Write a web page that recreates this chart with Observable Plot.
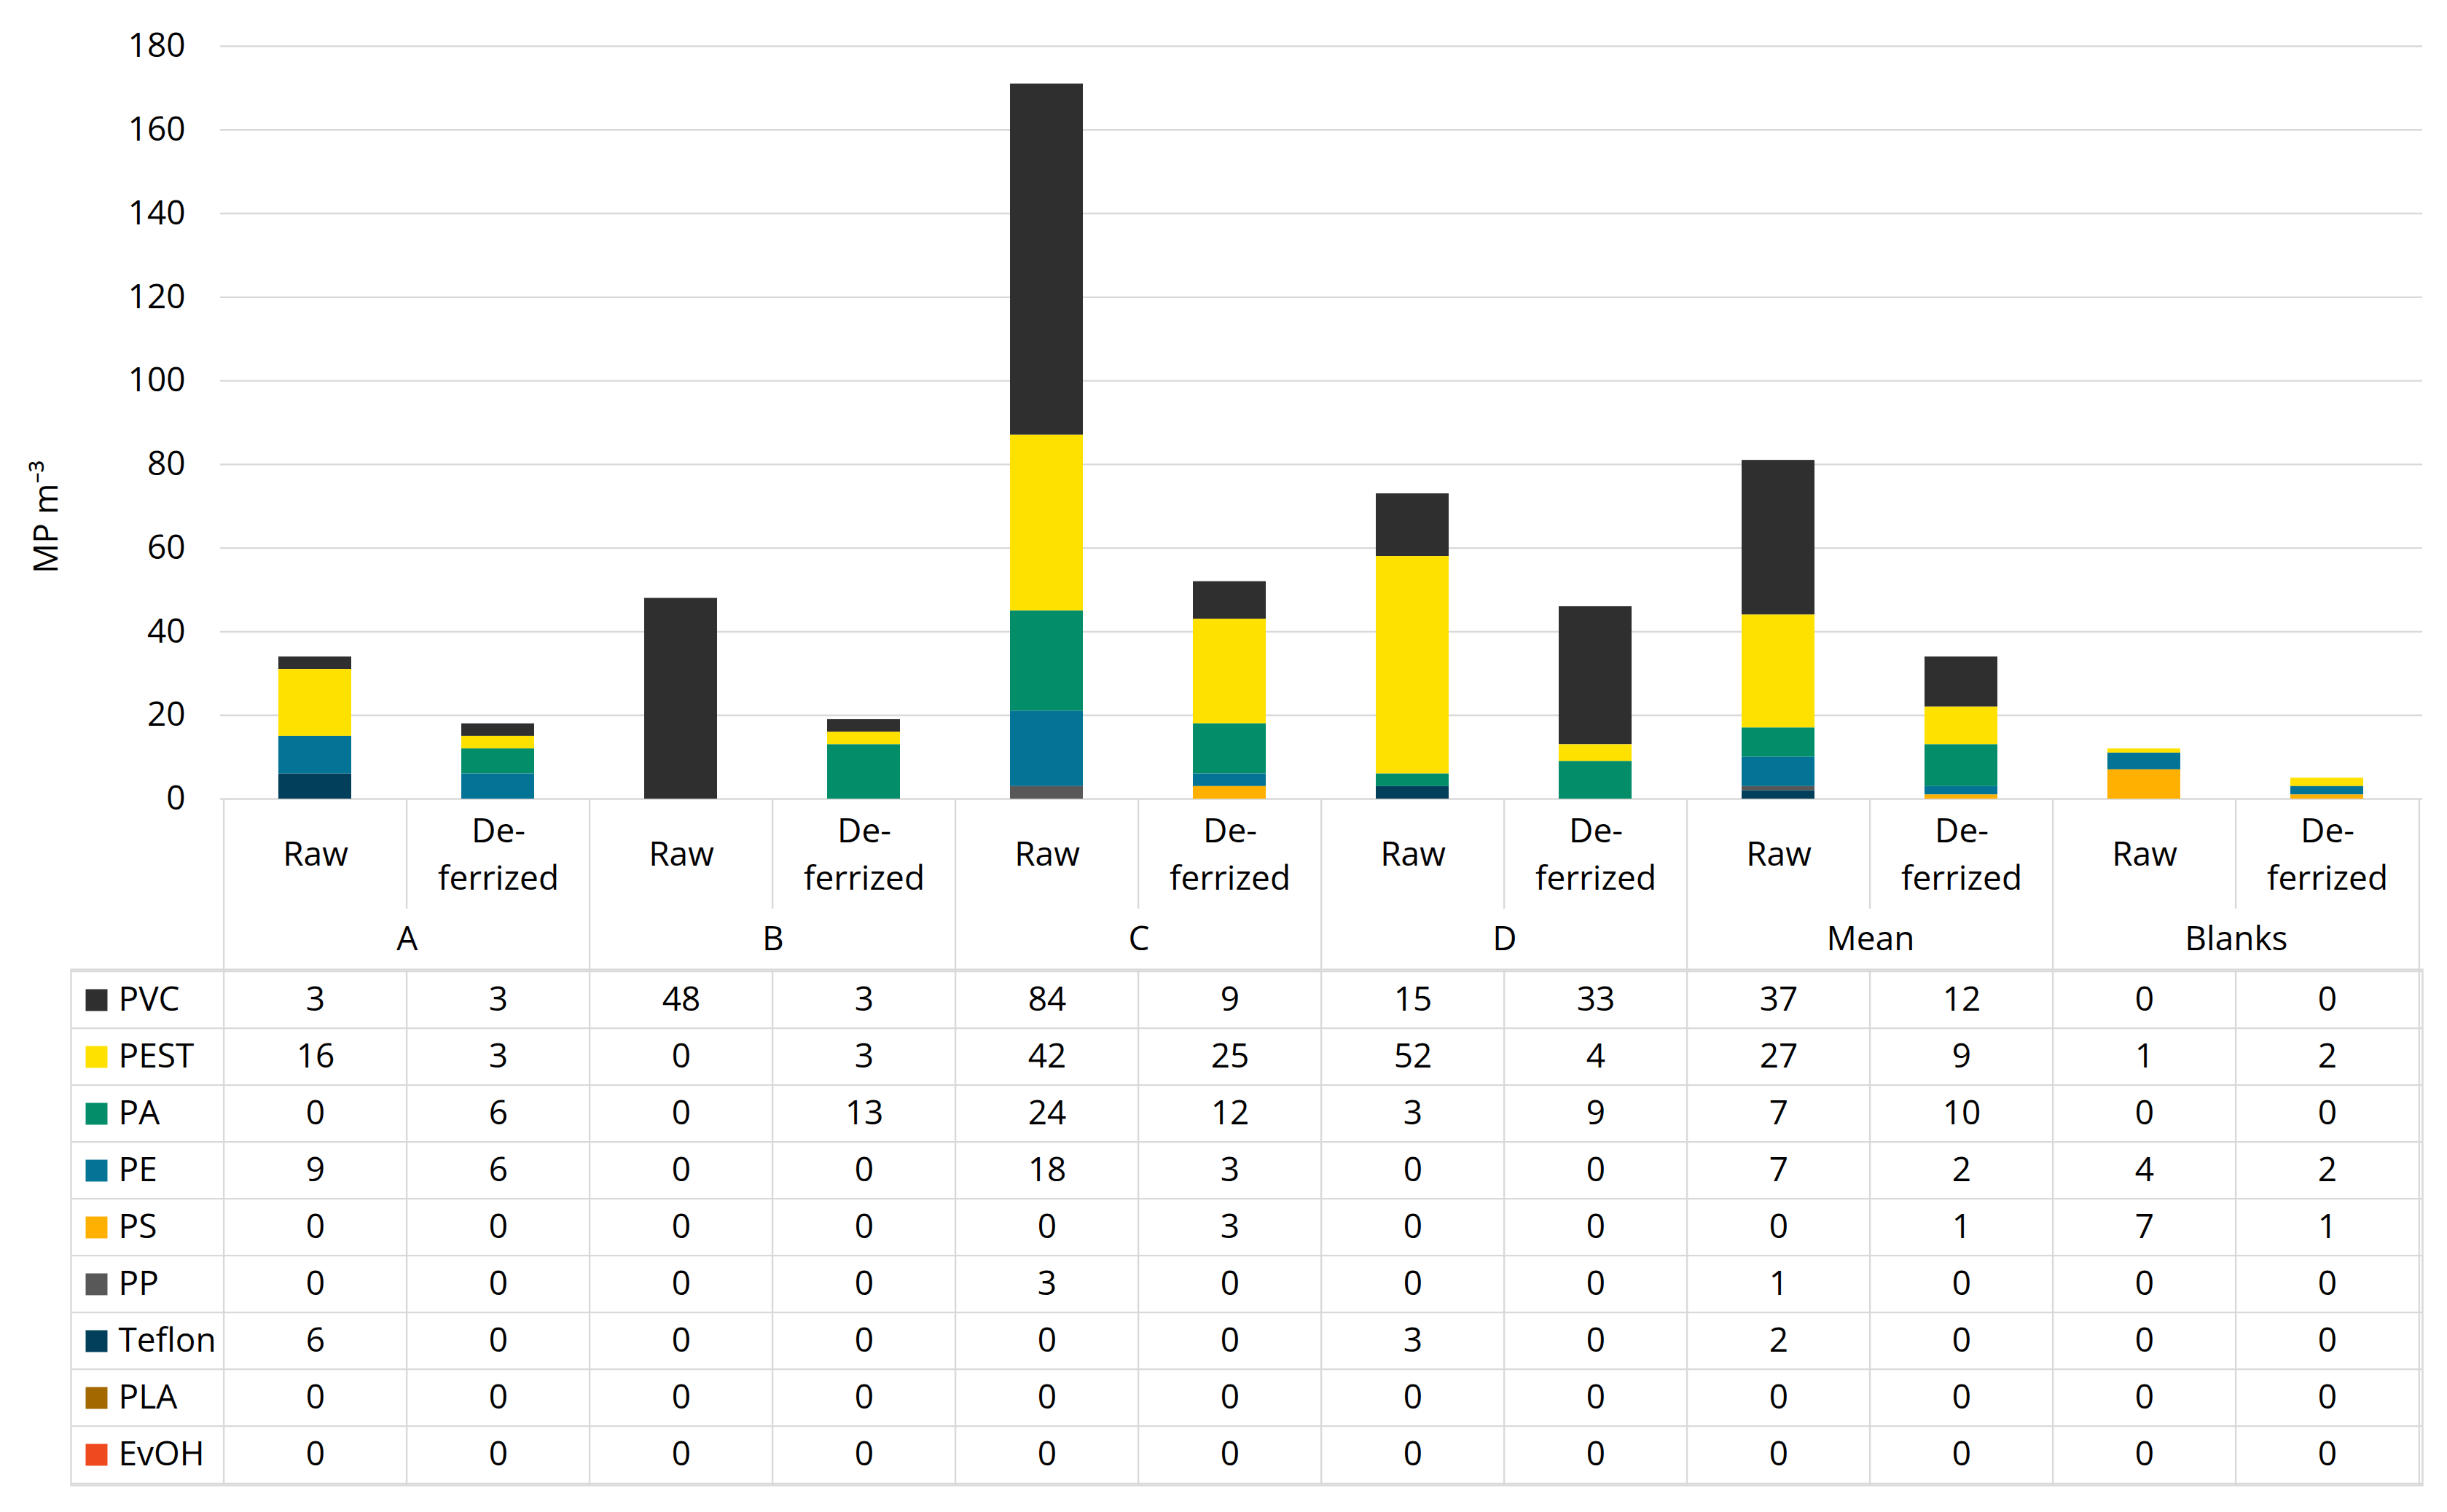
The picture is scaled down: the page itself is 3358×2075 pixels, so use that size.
<!DOCTYPE html>
<html>
<head>
<meta charset="utf-8">
<script src="https://cdn.jsdelivr.net/npm/d3@7"></script>
<script src="https://cdn.jsdelivr.net/npm/@observablehq/plot@0.6"></script>
<style>
html, body { margin: 0; padding: 0; background: #fff; overflow: hidden; }
#fig svg { display: block; }
</style>
</head>
<body>
<div id="fig"></div>
<script>
// ---------- data ----------
const groups = ["A", "B", "C", "D", "Mean", "Blanks"];
const treatments = ["Raw", "De-ferrized"];
const treatmentLabels = ["Raw", "De-\nferrized"];
const polymers = ["PVC", "PEST", "PA", "PE", "PS", "PP", "Teflon", "PLA", "EvOH"];
const polymerColors = ["#2f2f2f", "#ffe100", "#038e69", "#037396", "#ffb000", "#585858", "#013f5a", "#a36800", "#ef4a1f"];
const stackOrder = ["EvOH", "PLA", "Teflon", "PP", "PS", "PE", "PA", "PEST", "PVC"];
const yTicks = [0, 20, 40, 60, 80, 100, 120, 140, 160, 180];
const yLabel = "MP m⁻³";

// values per polymer, columns: A Raw, A De, B Raw, B De, C Raw, C De, D Raw, D De, Mean Raw, Mean De, Blanks Raw, Blanks De
const PVC    = [3, 3, 48, 3, 84, 9, 15, 33, 37, 12, 0, 0];
const PEST   = [16, 3, 0, 3, 42, 25, 52, 4, 27, 9, 1, 2];
const PA     = [0, 6, 0, 13, 24, 12, 3, 9, 7, 10, 0, 0];
const PE     = [9, 6, 0, 0, 18, 3, 0, 0, 7, 2, 4, 2];
const PS     = [0, 0, 0, 0, 0, 3, 0, 0, 0, 1, 7, 1];
const PP     = [0, 0, 0, 0, 3, 0, 0, 0, 1, 0, 0, 0];
const Teflon = [6, 0, 0, 0, 0, 0, 3, 0, 2, 0, 0, 0];
const PLA    = [0, 0, 0, 0, 0, 0, 0, 0, 0, 0, 0, 0];
const EvOH   = [0, 0, 0, 0, 0, 0, 0, 0, 0, 0, 0, 0];
const series = [PVC, PEST, PA, PE, PS, PP, Teflon, PLA, EvOH];

// ---------- derived tables ----------
const columns = groups.flatMap(g => treatments.map(t => g + " | " + t));
const rows = polymers.flatMap((p, i) => series[i].map((v, j) => ({polymer: p, col: columns[j], value: v})));
const groupRawCols = columns.filter((c, i) => i % 2 === 0);

// ---------- layout ----------
const W = 3358;
const left = 302, right = 34;
const colW = (W - left - right) / columns.length;
const lineColor = "#d9d9d9", lineW = 2.4;
const font = {fontFamily: "'Open Sans', 'Noto Sans', sans-serif", fontSize: "46px", color: "#000", background: "#fff", overflow: "visible"};
const color = {domain: polymers, range: polymerColors, type: "ordinal"};

const chartH = 1097, chartTop = 63, chartBottom = 1;
const subH = 150, grpH = 83;
const tableH = 2075 - chartH - subH - grpH, tableBottom = 37, tableLeft = 97;
const rowH = (tableH - tableBottom) / polymers.length;

const fig = document.getElementById("fig");

// chart
fig.appendChild(Plot.plot({
  width: W, height: chartH,
  marginLeft: left, marginRight: right, marginTop: chartTop, marginBottom: chartBottom,
  style: font,
  x: {type: "band", domain: columns, paddingInner: 0.6, paddingOuter: 0.3, axis: null},
  y: {domain: [0, 180], axis: null},
  color,
  marks: [
    Plot.gridY(yTicks, {stroke: lineColor, strokeOpacity: 1, strokeWidth: lineW}),
    Plot.barY(rows, {x: "col", y: "value", z: "polymer", fill: "polymer", order: stackOrder}),
    Plot.axisY(yTicks, {tickSize: 0, tickPadding: 48, fontSize: 46, fill: "#000", label: null}),
    Plot.text([yLabel], {text: d => d, frameAnchor: "left", textAnchor: "middle", lineAnchor: "middle", rotate: -90, dx: 64 - left, dy: 709 - (chartTop + chartH - chartBottom) / 2, fontSize: 46, fill: "#000"})
  ]
}));

// sub-category header
fig.appendChild(Plot.plot({
  width: W, height: subH,
  marginLeft: left, marginRight: right, marginTop: 0, marginBottom: 0,
  style: font,
  x: {type: "band", domain: columns, padding: 0, axis: null},
  marks: [
    Plot.ruleX(columns, {x: d => d, dx: -colW / 2, stroke: lineColor, strokeWidth: lineW}),
    Plot.ruleX([columns[columns.length - 1]], {x: d => d, dx: colW / 2, stroke: lineColor, strokeWidth: lineW}),
    Plot.text(columns, {x: d => d, text: (d, i) => treatmentLabels[i % 2], frameAnchor: "middle", lineAnchor: "middle", lineHeight: 1.42, dy: -5, fontSize: 46, fill: "#000"})
  ]
}));

// group header
fig.appendChild(Plot.plot({
  width: W, height: grpH,
  marginLeft: left, marginRight: right, marginTop: 0, marginBottom: 0,
  style: font,
  x: {type: "band", domain: columns, padding: 0, axis: null},
  marks: [
    Plot.ruleX(groupRawCols, {x: d => d, dx: -colW / 2, stroke: lineColor, strokeWidth: lineW}),
    Plot.ruleX([columns[columns.length - 1]], {x: d => d, dx: colW / 2, stroke: lineColor, strokeWidth: lineW}),
    Plot.text(groups, {x: (d, i) => groupRawCols[i], text: d => d, dx: colW / 2, frameAnchor: "middle", fontSize: 46, fill: "#000"})
  ]
}));

// data table with legend
fig.appendChild(Plot.plot({
  width: W, height: tableH,
  marginLeft: tableLeft, marginRight: right, marginTop: 0, marginBottom: tableBottom,
  style: font,
  x: {type: "band", domain: columns, range: [left, W - right], padding: 0, axis: null},
  y: {type: "band", domain: polymers, padding: 0, axis: null},
  color,
  marks: [
    Plot.ruleY(polymers, {y: d => d, dy: -rowH / 2, stroke: lineColor, strokeWidth: lineW}),
    Plot.ruleY([polymers[polymers.length - 1]], {y: d => d, dy: rowH / 2, stroke: lineColor, strokeWidth: lineW}),
    Plot.ruleX(columns, {x: d => d, dx: -colW / 2, stroke: lineColor, strokeWidth: lineW}),
    Plot.ruleX([columns[columns.length - 1]], {x: d => d, dx: colW / 2, stroke: lineColor, strokeWidth: lineW}),
    Plot.frame({stroke: lineColor, strokeWidth: lineW}),
    Plot.dot(polymers, {y: d => d, frameAnchor: "left", dx: 35, symbol: "square", r: 16.9, fill: d => d}),
    Plot.text(polymers, {y: d => d, text: d => d, frameAnchor: "left", textAnchor: "start", dx: 65, fontSize: 46, fill: "#000"}),
    Plot.text(rows, {x: "col", y: "polymer", text: d => String(d.value), fontSize: 46, fill: "#000"})
  ]
}));
</script>
</body>
</html>
